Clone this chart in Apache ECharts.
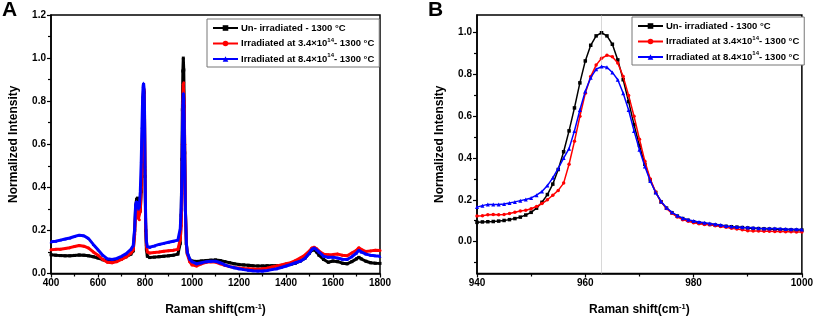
<!DOCTYPE html>
<html>
<head>
<meta charset="utf-8">
<script src="https://cdn.jsdelivr.net/npm/echarts@6/dist/echarts.min.js"></script>
<style>
  html, body { margin: 0; padding: 0; background: #fff; }
  #chart { width: 816px; height: 321px; }
</style>
</head>
<body>
<div id="chart"></div>
<script>
// series names (same in both panels)
var names = ['Un- irradiated - 1300 °C', 'Irradiated at 3.4×10^14- 1300 °C', 'Irradiated at 8.4×10^14- 1300 °C']

// panel A: full spectrum
var ramanA = [
  400, 420, 440, 460, 480, 500, 520, 540, 560, 580,
  600, 620, 640, 660, 680, 700, 720, 740, 750, 756,
  760, 764, 768, 772, 776, 780, 784, 787, 790, 792,
  794, 796, 798, 800, 803, 806, 810, 820, 840, 860,
  880, 900, 920, 940, 950, 954, 957, 959, 961, 963,
  965, 967, 969, 972, 976, 980, 990, 1000, 1020, 1040,
  1060, 1080, 1100, 1120, 1140, 1160, 1180, 1200, 1220, 1240,
  1260, 1280, 1300, 1320, 1340, 1360, 1380, 1400, 1420, 1440,
  1460, 1480, 1500, 1510, 1520, 1530, 1540, 1560, 1580, 1600,
  1620, 1640, 1660, 1680, 1700, 1710, 1720, 1740, 1760, 1780,
  1800
]
var blackA = [
  0.087, 0.085, 0.083, 0.082, 0.082, 0.084, 0.086, 0.085, 0.082, 0.078,
  0.072, 0.064, 0.058, 0.056, 0.060, 0.068, 0.078, 0.090, 0.105, 0.200,
  0.310, 0.345, 0.350, 0.335, 0.300, 0.290, 0.380, 0.520, 0.700, 0.800,
  0.850, 0.840, 0.720, 0.450, 0.200, 0.110, 0.080, 0.074, 0.076, 0.078,
  0.080, 0.082, 0.085, 0.090, 0.140, 0.270, 0.530, 0.760, 0.940, 1.000,
  0.945, 0.775, 0.560, 0.295, 0.138, 0.095, 0.065, 0.058, 0.056, 0.058,
  0.060, 0.062, 0.063, 0.060, 0.055, 0.050, 0.045, 0.042, 0.040, 0.038,
  0.036, 0.035, 0.035, 0.036, 0.036, 0.037, 0.037, 0.038, 0.042, 0.048,
  0.057, 0.070, 0.095, 0.108, 0.110, 0.100, 0.085, 0.065, 0.052, 0.058,
  0.055, 0.048, 0.045, 0.055, 0.068, 0.075, 0.068, 0.057, 0.050, 0.048,
  0.047
]
var redA = [
  0.110, 0.112, 0.113, 0.116, 0.120, 0.125, 0.130, 0.127, 0.118, 0.100,
  0.085, 0.065, 0.052, 0.050, 0.055, 0.065, 0.077, 0.095, 0.110, 0.180,
  0.280, 0.305, 0.290, 0.255, 0.250, 0.290, 0.400, 0.560, 0.720, 0.820,
  0.860, 0.850, 0.740, 0.480, 0.220, 0.130, 0.100, 0.095, 0.098, 0.100,
  0.103, 0.106, 0.108, 0.112, 0.157, 0.222, 0.370, 0.600, 0.790, 0.878,
  0.885, 0.790, 0.600, 0.300, 0.135, 0.090, 0.055, 0.040, 0.035, 0.045,
  0.052, 0.055, 0.053, 0.045, 0.038, 0.032, 0.028, 0.025, 0.023, 0.022,
  0.021, 0.020, 0.022, 0.025, 0.030, 0.035, 0.040, 0.045, 0.050, 0.060,
  0.072, 0.085, 0.105, 0.118, 0.122, 0.115, 0.105, 0.090, 0.087, 0.088,
  0.090, 0.085, 0.082, 0.095, 0.108, 0.120, 0.112, 0.102, 0.105, 0.108,
  0.107
]
var blueA = [
  0.147, 0.150, 0.155, 0.160, 0.165, 0.172, 0.178, 0.175, 0.162, 0.135,
  0.110, 0.085, 0.068, 0.065, 0.070, 0.080, 0.092, 0.112, 0.130, 0.210,
  0.320, 0.335, 0.330, 0.300, 0.310, 0.380, 0.520, 0.680, 0.820, 0.870,
  0.884, 0.860, 0.760, 0.500, 0.240, 0.150, 0.125, 0.122, 0.128, 0.135,
  0.140, 0.145, 0.150, 0.155, 0.209, 0.305, 0.445, 0.630, 0.785, 0.838,
  0.810, 0.710, 0.530, 0.290, 0.140, 0.098, 0.067, 0.055, 0.045, 0.050,
  0.055, 0.057, 0.057, 0.050, 0.040, 0.032, 0.027, 0.022, 0.018, 0.015,
  0.013, 0.012, 0.012, 0.014, 0.018, 0.022, 0.028, 0.035, 0.042, 0.050,
  0.057, 0.070, 0.095, 0.112, 0.118, 0.110, 0.100, 0.080, 0.075, 0.076,
  0.072, 0.066, 0.065, 0.078, 0.095, 0.108, 0.100, 0.090, 0.085, 0.082,
  0.080
]

// panel B: zoom on the main peak, one point per cm-1 from 940 to 1000
var ramanB = [
  940, 941, 942, 943, 944, 945, 946, 947, 948, 949,
  950, 951, 952, 953, 954, 955, 956, 957, 958, 959,
  960, 961, 962, 963, 964, 965, 966, 967, 968, 969,
  970, 971, 972, 973, 974, 975, 976, 977, 978, 979,
  980, 981, 982, 983, 984, 985, 986, 987, 988, 989,
  990, 991, 992, 993, 994, 995, 996, 997, 998, 999,
  1000
]
var blackB = [
  0.092, 0.094, 0.095, 0.096, 0.098, 0.101, 0.105, 0.110, 0.117, 0.127,
  0.140, 0.160, 0.188, 0.225, 0.275, 0.345, 0.430, 0.530, 0.640, 0.760,
  0.865, 0.940, 0.985, 1.000, 0.985, 0.945, 0.870, 0.775, 0.670, 0.560,
  0.460, 0.370, 0.295, 0.235, 0.190, 0.160, 0.138, 0.122, 0.110, 0.102,
  0.095, 0.090, 0.086, 0.082, 0.079, 0.076, 0.073, 0.071, 0.069, 0.067,
  0.065, 0.063, 0.062, 0.061, 0.060, 0.059, 0.058, 0.057, 0.056, 0.055,
  0.055
]
var redB = [
  0.122, 0.124, 0.128, 0.130, 0.128, 0.130, 0.134, 0.140, 0.146, 0.150,
  0.157, 0.168, 0.182, 0.200, 0.222, 0.245, 0.280, 0.370, 0.480, 0.600,
  0.710, 0.790, 0.845, 0.878, 0.892, 0.885, 0.855, 0.790, 0.700, 0.600,
  0.490, 0.385, 0.300, 0.237, 0.190, 0.158, 0.135, 0.118, 0.105, 0.097,
  0.090, 0.085, 0.082, 0.080, 0.076, 0.072, 0.068, 0.064, 0.060, 0.056,
  0.052, 0.050, 0.050, 0.049, 0.049, 0.048, 0.048, 0.047, 0.047, 0.046,
  0.046
]
var blueB = [
  0.165, 0.172, 0.178, 0.178, 0.177, 0.180, 0.185, 0.190, 0.196, 0.201,
  0.209, 0.222, 0.240, 0.268, 0.305, 0.350, 0.400, 0.445, 0.530, 0.630,
  0.720, 0.785, 0.825, 0.838, 0.835, 0.810, 0.775, 0.710, 0.630, 0.530,
  0.440, 0.360, 0.290, 0.235, 0.192, 0.162, 0.140, 0.124, 0.112, 0.104,
  0.098, 0.094, 0.090, 0.087, 0.083, 0.079, 0.075, 0.072, 0.070, 0.068,
  0.067, 0.066, 0.064, 0.063, 0.063, 0.062, 0.061, 0.060, 0.059, 0.059,
  0.058
]

// tick labels for panel B y axis (its range does not start on a tick)
var yTicksB = [0, 0.2, 0.4, 0.6, 0.8, 1.0]
var yMinorB = [-0.1, 0.1, 0.3, 0.5, 0.7, 0.9]

var colors = ['#000000', '#ff0000', '#0000ff']
var symbols = ['rect', 'circle', 'triangle']

function zip (xs, ys) {
  return xs.map(function (x, i) { return [x, ys[i]] })
}

var fontFamily = 'Liberation Sans, Arial, sans-serif'

var legendRich = {
  n: { fontSize: 9.5, fontWeight: 'bold', color: '#000', fontFamily: fontFamily, lineHeight: 13 },
  sup: { fontSize: 6, fontWeight: 'bold', color: '#000', fontFamily: fontFamily, verticalAlign: 'top', lineHeight: 13, padding: [0, 0, 5, 0] }
}
function legendFormatter (name) {
  var m = name.split('^')
  if (m.length === 1) return '{n|' + name + '}'
  var sup = m[1].slice(0, 2)
  return '{n|' + m[0] + '}{sup|' + sup + '}{n|' + m[1].slice(2) + '}'
}

function makeLegend (left, top) {
  return {
    data: names,
    orient: 'vertical',
    left: left,
    top: top,
    itemWidth: 25,
    itemHeight: 7,
    itemGap: 4,
    padding: [4, 5, 3, 5],
    borderColor: '#777',
    borderWidth: 1,
    backgroundColor: '#fff',
    selectedMode: false,
    formatter: legendFormatter,
    textStyle: { rich: legendRich, padding: [0, 0, 0, -2] }
  }
}

var axisLabelStyle = {
  color: '#000',
  fontWeight: 'bold',
  fontSize: 10,
  fontFamily: fontFamily,
  margin: 5
}
var axisLineStyle = { show: true, onZero: false, lineStyle: { color: '#000', width: 1.5 } }
var nameStyle = {
  color: '#000',
  fontWeight: 'bold',
  fontSize: 12,
  fontFamily: fontFamily,
  rich: {
    sup: { fontSize: 7.5, fontWeight: 'bold', fontFamily: fontFamily, color: '#000', verticalAlign: 'top', padding: [0, 0, 7, 0] }
  }
}

function xAxis (grid, min, max, interval) {
  return {
    type: 'value',
    gridIndex: grid,
    min: min,
    max: max,
    interval: interval,
    name: 'Raman shift(cm{sup|-1})',
    nameLocation: 'middle',
    nameGap: 29,
    nameTextStyle: nameStyle,
    axisLine: axisLineStyle,
    axisTick: { show: true, length: 4, lineStyle: { color: '#000', width: 1.2 } },
    minorTick: { show: true, splitNumber: 2, length: 3, lineStyle: { color: '#000', width: 1.2 } },
    axisLabel: Object.assign({ formatter: function (v) { return String(v) } }, axisLabelStyle),
    splitLine: { show: false }
  }
}

function lineSeries (i, xs, ys, xi, lw, size) {
  return {
    name: names[i],
    type: 'line',
    xAxisIndex: xi,
    yAxisIndex: xi,
    data: zip(xs, ys),
    symbol: symbols[i],
    symbolSize: size,
    showSymbol: true,
    color: colors[i],
    itemStyle: { color: colors[i] },
    lineStyle: { color: colors[i], width: lw },
    z: 3 + i
  }
}

var myChart = echarts.init(document.getElementById('chart'), null, { renderer: 'canvas' })

var option = {
  animation: false,
  backgroundColor: '#fff',
  graphic: [
    { type: 'text', left: 2, top: 0, style: { text: 'A', fontSize: 21, fontWeight: 'bold', fontFamily: fontFamily, fill: '#000' } },
    { type: 'text', left: 428, top: 0, style: { text: 'B', fontSize: 21, fontWeight: 'bold', fontFamily: fontFamily, fill: '#000' } }
  ],
  legend: [makeLegend(207, 19), makeLegend(632, 17)],
  grid: [
    { left: 51, top: 15, width: 329, height: 266, show: true, borderColor: '#000', borderWidth: 1.5 },
    { left: 477, top: 15, width: 329, height: 266, show: true, borderColor: '#000', borderWidth: 1.5 }
  ],
  xAxis: [
    xAxis(0, 400, 1800, 200),
    xAxis(1, 940, 1000, 20)
  ],
  yAxis: [
    {
      type: 'value',
      gridIndex: 0,
      min: 0,
      max: 1.2,
      interval: 0.2,
      name: 'Normalized Intensity',
      nameLocation: 'middle',
      nameGap: 31,
      nameTextStyle: nameStyle,
      axisLine: axisLineStyle,
      axisTick: { show: true, length: 4, lineStyle: { color: '#000', width: 1.2 } },
      minorTick: { show: true, splitNumber: 2, length: 3, lineStyle: { color: '#000', width: 1.2 } },
      axisLabel: Object.assign({ formatter: function (v) { return v.toFixed(1) } }, axisLabelStyle),
      splitLine: { show: false }
    },
    {
      type: 'value',
      gridIndex: 1,
      min: -0.153,
      max: 1.085,
      name: 'Normalized Intensity',
      nameLocation: 'middle',
      nameGap: 31,
      nameTextStyle: nameStyle,
      axisLine: axisLineStyle,
      axisTick: { show: true, length: 4, customValues: yTicksB, lineStyle: { color: '#000', width: 1.2 } },
      axisLabel: Object.assign({ customValues: yTicksB, formatter: function (v) { return v.toFixed(1) } }, axisLabelStyle),
      splitLine: { show: false }
    },
    {
      // minor ticks only for panel B
      type: 'value',
      gridIndex: 1,
      min: -0.153,
      max: 1.085,
      position: 'left',
      axisLine: { show: false },
      axisTick: { show: true, length: 3, customValues: yMinorB, lineStyle: { color: '#000', width: 1.2 } },
      axisLabel: { show: false },
      splitLine: { show: false }
    }
  ],
  series: [
    lineSeries(0, ramanA, blackA, 0, 3, 3),
    lineSeries(1, ramanA, redA, 0, 3, 3),
    lineSeries(2, ramanA, blueA, 0, 3, 3),
    Object.assign(lineSeries(0, ramanB, blackB, 1, 1.5, 3.5), {
      markLine: {
        silent: true,
        symbol: 'none',
        label: { show: false },
        lineStyle: { color: '#b0b0b0', type: 'dotted', width: 1 },
        data: [{ xAxis: 963 }]
      }
    }),
    lineSeries(1, ramanB, redB, 1, 1.5, 3.5),
    lineSeries(2, ramanB, blueB, 1, 1.5, 4)
  ]
}

myChart.clear()
myChart.setOption(option)
</script>
</body>
</html>
